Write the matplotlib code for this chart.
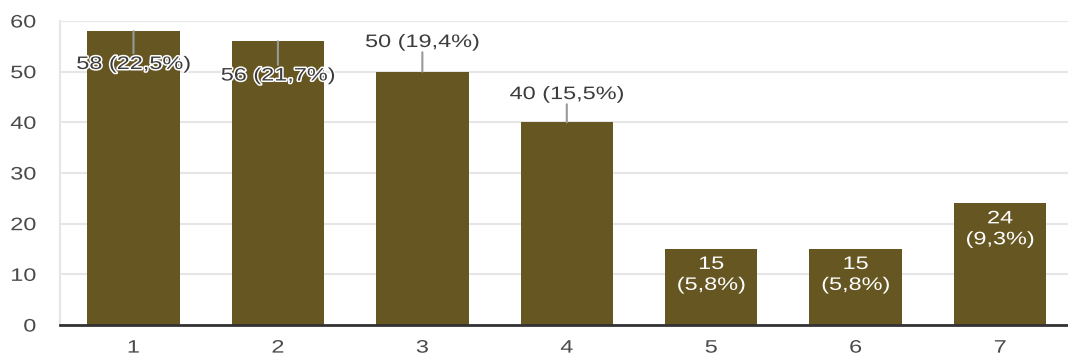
import matplotlib.pyplot as plt
import matplotlib.patheffects as pe
from matplotlib.transforms import Affine2D

plt.rcParams["font.family"] = ["Liberation Sans", "DejaVu Sans"]

categories = ["1", "2", "3", "4", "5", "6", "7"]
counts = [58, 56, 50, 40, 15, 15, 24]
percents = ["22,5", "21,7", "19,4", "15,5", "5,8", "5,8", "9,3"]

BAR_COLOR = "#665622"
GRID_COLOR = "#e6e6e6"
TEXT_COLOR = "#3c3c3c"
TICK_COLOR = "#4a4a4a"
FONT_SIZE = 13
SX = 1.3  # horizontal text stretch


class StretchX(pe.AbstractPathEffect):
    """Widen glyph paths horizontally around the text's left/center/right edge."""

    def __init__(self, sx, anchor="center", inner=None):
        super().__init__()
        self.sx = sx
        self.anchor = anchor
        self.inner = inner or [pe.Normal()]

    def draw_path(self, renderer, gc, tpath, affine, rgbFace=None):
        ext = tpath.get_extents()
        if self.anchor == "left":
            cx = 0.0
        elif self.anchor == "right":
            cx = ext.x1
        else:
            cx = (ext.x0 + ext.x1) / 2
        t = Affine2D().translate(-cx, 0).scale(self.sx, 1).translate(cx, 0) + affine
        for eff in self.inner:
            eff.draw_path(renderer, gc, tpath, t, rgbFace)


fig = plt.figure(figsize=(10.68, 3.56), dpi=100)
ax = fig.add_axes([0.056, 0.087, 0.944, 0.854])

x = list(range(1, len(categories) + 1))
ax.bar(x, counts, width=0.64, color=BAR_COLOR, zorder=2)

ax.set_xlim(0.49, 7.47)
ax.set_ylim(0, 60)
ax.set_yticks(range(0, 61, 10))
ax.set_xticks(x)
ax.set_xticklabels(categories)
ax.yaxis.grid(True, color=GRID_COLOR, linewidth=1.5, zorder=0)
ax.tick_params(axis="both", length=0, labelsize=FONT_SIZE, labelcolor=TICK_COLOR)
ax.tick_params(axis="y", pad=17)
ax.tick_params(axis="x", pad=10.5)
for lbl in ax.get_yticklabels():
    lbl.set_path_effects([StretchX(SX, "right")])
for lbl in ax.get_xticklabels():
    lbl.set_path_effects([StretchX(SX, "center")])
for side in ("top", "right"):
    ax.spines[side].set_visible(False)
ax.spines["left"].set_color(GRID_COLOR)
ax.spines["left"].set_linewidth(1.5)
ax.spines["bottom"].set_color("#333333")
ax.spines["bottom"].set_linewidth(2)
ax.spines["bottom"].set_zorder(3)

halo = [StretchX(SX, "center", [pe.Stroke(linewidth=2.2, foreground="white"), pe.Normal()])]
plain = [StretchX(SX, "center")]

# outside labels: (label offset, leader line end) in points from the bar top
outside = {0: (-24, -16), 1: (-25, -17), 2: (21, 14), 3: (20, 13)}
for i, (c, p) in enumerate(zip(counts, percents)):
    if i in outside:
        dy, line_end = outside[i]
        ax.annotate("", xy=(x[i], c), xytext=(0, line_end), textcoords="offset points",
                    arrowprops=dict(arrowstyle="-", color="#999999", lw=1.5,
                                    shrinkA=0, shrinkB=0), zorder=3)
        ax.annotate(f"{c} ({p}%)", xy=(x[i], c), xytext=(0, dy), textcoords="offset points",
                    ha="center", va="center", fontsize=FONT_SIZE, color=TEXT_COLOR,
                    path_effects=halo, zorder=4)
    else:
        ax.annotate(f"{c}\n({p}%)", xy=(x[i], c), xytext=(0, -5), textcoords="offset points",
                    ha="center", va="top", fontsize=FONT_SIZE, color="white",
                    linespacing=1.3, path_effects=plain, zorder=4)

fig.savefig("out.png", dpi=100)
